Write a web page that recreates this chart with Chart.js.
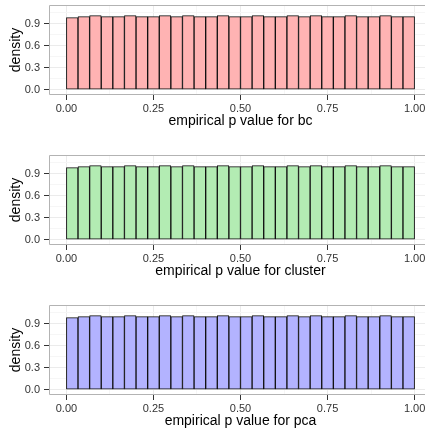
<!DOCTYPE html>
<html>
<head>
<meta charset="utf-8">
<script src="https://cdn.jsdelivr.net/npm/chart.js@4/dist/chart.umd.min.js"></script>
<style>
    html, body { margin: 0; padding: 0; background: #fff; overflow: hidden; width: 425px; height: 433px; }
    .panel { position: absolute; left: 0; width: 425px; height: 145px; overflow: hidden; }
</style>
</head>
<body>
<div class="panel" style="top:0px"><canvas id="bcChart" width="432" height="145"></canvas></div>
<div class="panel" style="top:150px"><canvas id="clusterChart" width="432" height="145"></canvas></div>
<div class="panel" style="top:300px; height:133px"><canvas id="pcaChart" width="432" height="145"></canvas></div>
<script>
// 30 bins over [0, 1]
const binCount = 30;
const binWidth = 1 / binCount;

// 눈금
const xMajorTicks = [0, 0.25, 0.5, 0.75, 1];
const xMinorTicks = [0.125, 0.375, 0.625, 0.875];
const yMajorTicks = [0, 0.3, 0.6, 0.9];
const yMinorTicks = [0.15, 0.45, 0.75, 1.05];

// density per bin
const bcDensity = [
    0.982, 0.995, 1.009, 0.995, 0.995, 1.009, 0.995, 0.995, 1.009, 0.995,
    1.009, 0.995, 0.995, 1.009, 0.995, 0.995, 1.009, 0.995, 0.995, 1.009,
    0.995, 1.009, 0.995, 0.995, 1.009, 0.995, 0.995, 1.009, 0.995, 0.995
];
const clusterDensity = [
    0.982, 0.995, 1.009, 0.995, 0.995, 1.009, 0.995, 0.995, 1.009, 0.995,
    1.009, 0.995, 0.995, 1.009, 0.995, 0.995, 1.009, 0.995, 0.995, 1.009,
    0.995, 1.009, 0.995, 0.995, 1.009, 0.995, 0.995, 1.009, 0.995, 0.995
];
const pcaDensity = [
    0.982, 0.995, 1.009, 0.995, 0.995, 1.009, 0.995, 0.995, 1.009, 0.995,
    1.009, 0.995, 0.995, 1.009, 0.995, 0.995, 1.009, 0.995, 0.995, 1.009,
    0.995, 1.009, 0.995, 0.995, 1.009, 0.995, 0.995, 1.009, 0.995, 0.995
];

Chart.defaults.font.family = "'Liberation Sans', Arial, sans-serif";
Chart.defaults.animation = false;

// 패널 테두리 (오른쪽은 잘림)
const panelBorder = {
    id: 'panelBorder',
    afterDraw(chart) {
        const a = chart.chartArea;
        const ctx = chart.ctx;
        ctx.save();
        ctx.strokeStyle = '#b3b3b3';
        ctx.lineWidth = 1;
        ctx.beginPath();
        ctx.moveTo(a.right, a.top + 0.5);
        ctx.lineTo(a.left + 0.5, a.top + 0.5);
        ctx.lineTo(a.left + 0.5, a.bottom - 0.5);
        ctx.lineTo(a.right, a.bottom - 0.5);
        ctx.stroke();
        ctx.restore();
    }
};

function isMinor(list, v) {
    return list.some(m => Math.abs(m - v) < 1e-9);
}

function renderHistogram(id, values, fill, label) {
    const points = values.map((v, i) => ({ x: (i + 0.5) * binWidth, y: v }));
    const xAll = xMajorTicks.concat(xMinorTicks).sort((a, b) => a - b);
    const yAll = yMajorTicks.concat(yMinorTicks).sort((a, b) => a - b);

    new Chart(document.getElementById(id), {
        type: 'bar',
        data: {
            datasets: [{
                data: points,
                backgroundColor: fill,
                borderColor: '#111',
                borderWidth: 1,
                borderSkipped: false,
                barPercentage: 1,
                categoryPercentage: 1
            }]
        },
        options: {
            responsive: false,
            layout: { padding: { top: 5, left: 0, right: 0, bottom: 0 } },
            plugins: { legend: { display: false }, tooltip: { enabled: false } },
            scales: {
                x: {
                    type: 'linear',
                    min: -0.05,
                    max: 1.05,
                    offset: false,
                    afterBuildTicks: s => { s.ticks = xAll.map(v => ({ value: v })); },
                    afterFit: s => { s.height = 50; s.paddingLeft = 0; s.paddingRight = 0; },
                    grid: {
                        offset: false,
                        color: c => isMinor(xMinorTicks, c.tick.value) ? '#f6f6f6' : '#ebebeb',
                        tickColor: c => isMinor(xMinorTicks, c.tick.value) ? 'rgba(0,0,0,0)' : '#333',
                        tickLength: 5
                    },
                    border: { display: false },
                    ticks: {
                        autoSkip: false,
                        maxRotation: 0,
                        padding: 2,
                        color: '#333',
                        font: { size: 11 },
                        callback: v => isMinor(xMinorTicks, v) ? '' : v.toFixed(2)
                    },
                    title: {
                        display: true,
                        text: label,
                        color: '#000',
                        font: { size: 14 },
                        padding: { top: 0, bottom: 15 }
                    }
                },
                y: {
                    min: -0.0736,
                    max: 1.1537,
                    afterBuildTicks: s => { s.ticks = yAll.map(v => ({ value: v })); },
                    afterFit: s => { s.width = 49; s.paddingTop = 0; s.paddingBottom = 0; },
                    grid: {
                        color: c => isMinor(yMinorTicks, c.tick.value) ? '#f6f6f6' : '#ebebeb',
                        tickColor: c => isMinor(yMinorTicks, c.tick.value) ? 'rgba(0,0,0,0)' : '#333',
                        tickLength: 5
                    },
                    border: { display: false },
                    ticks: {
                        autoSkip: false,
                        padding: 4,
                        color: '#333',
                        font: { size: 11 },
                        callback: v => isMinor(yMinorTicks, v) ? '' : v.toFixed(1)
                    },
                    title: {
                        display: true,
                        text: 'density',
                        color: '#000',
                        font: { size: 14 },
                        padding: { top: 8, bottom: 0 }
                    }
                }
            }
        },
        plugins: [panelBorder]
    });
}

renderHistogram('bcChart', bcDensity, '#ffb3b3', 'empirical p value for bc');
renderHistogram('clusterChart', clusterDensity, '#b3ecb3', 'empirical p value for cluster');
renderHistogram('pcaChart', pcaDensity, '#b3b3ff', 'empirical p value for pca');
</script>
</body>
</html>
